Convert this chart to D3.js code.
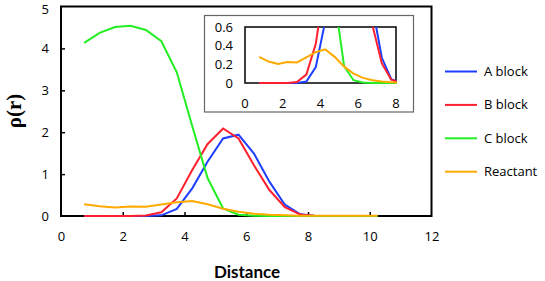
<!DOCTYPE html>
<html><head><meta charset="utf-8">
<script src="https://d3js.org/d3.v7.min.js"></script>
<style>body{margin:0;background:#fff}svg{display:block}</style>
</head><body>
<script>
const distance = [0.75,1.25,1.75,2.25,2.75,3.25,3.75,4.25,4.75,5.25,5.75,6.25,6.75,7.25,7.75,8.25,8.75,9.25,9.75,10.25];
const aBlock   = [0,0,0,0,0,0.015,0.17,0.66,1.3,1.85,1.94,1.49,0.82,0.27,0.04,0,0,0,0,0];
const bBlock   = [0,0,0,0,0.01,0.09,0.42,1.1,1.72,2.09,1.85,1.21,0.62,0.21,0.035,0,0,0,0,0];
const cBlock   = [4.13,4.37,4.51,4.54,4.44,4.17,3.43,2.15,0.9,0.18,0.03,0.005,0,0,0,0,0,0,0,0];
const reactant = [0.28,0.23,0.205,0.225,0.22,0.275,0.33,0.36,0.28,0.175,0.1,0.055,0.03,0.015,0.008,0.005,0.005,0.005,0.005,0.005];
const seriesNames = ["A block","B block","C block","Reactant"];
const seriesColors = ["#1f3fff","#ff1f2f","#22ee22","#ffaa00"];
const xTicks = [0,2,4,6,8,10,12];
const yTicks = [0,1,2,3,4,5];
const insetXTicks = [0,2,4,6,8];
const insetYTicks = [0,0.2,0.4,0.6];

const series = [aBlock,bBlock,cBlock,reactant];
const W=545,H=281;
const svg=d3.select("body").append("svg").attr("width",W).attr("height",H);
const font="'Open Sans', sans-serif";

// main
const x=d3.scaleLinear().domain([0,12]).range([61,431.5]);
const y=d3.scaleLinear().domain([0,5]).range([216,6.5]);
const line=(xs,ys)=>d3.line().x((d,i)=>xs(distance[i])).y(d=>ys(d));

svg.append("rect").attr("x",x(0)).attr("y",y(5)).attr("width",x(12)-x(0)).attr("height",y(0)-y(5))
  .attr("fill","none").attr("stroke","#000").attr("stroke-width",2);
const gx=svg.append("g").attr("transform","translate(0,216)")
  .call(d3.axisBottom(x).tickValues(xTicks).tickSize(-4).tickPadding(16).tickFormat(d3.format("d")));
const gy=svg.append("g").attr("transform","translate(61,0)")
  .call(d3.axisLeft(y).tickValues(yTicks).tickSize(-4).tickPadding(12).tickFormat(d3.format("d")));
[gx,gy].forEach(g=>{g.select(".domain").remove();g.selectAll("line").attr("stroke","#000").attr("stroke-width",1.5);
  g.selectAll("text").attr("font-family",font).attr("font-size",13).attr("fill","#000");});
gx.selectAll(".tick").filter(d=>d===0||d===12).select("line").remove();
gy.selectAll(".tick").filter(d=>d===0||d===5).select("line").remove();
gy.selectAll(".tick").filter(d=>d===5).select("text").attr("dy","0.5em");

series.forEach((s,k)=>{
  svg.append("path").datum(s).attr("d",line(x,y)).attr("fill","none")
    .attr("stroke",seriesColors[k]).attr("stroke-width",2);
});

// inset
svg.append("rect").attr("x",204.5).attr("y",15.5).attr("width",209).attr("height",96.5)
  .attr("fill","#fff").attr("stroke","#666").attr("stroke-width",1.2);
const ix=d3.scaleLinear().domain([0,8]).range([245,396]);
const iy=d3.scaleLinear().domain([0,0.6]).range([83,27]);
svg.append("rect").attr("x",245).attr("y",27).attr("width",151).attr("height",56)
  .attr("fill","none").attr("stroke","#000").attr("stroke-width",1.5);
svg.append("clipPath").attr("id","ic").append("rect").attr("x",244).attr("y",27).attr("width",153).attr("height",57);
const ig=svg.append("g").attr("clip-path","url(#ic)");
series.forEach((s,k)=>{
  ig.append("path").datum(s).attr("d",line(ix,iy)).attr("fill","none")
    .attr("stroke",seriesColors[k]).attr("stroke-width",2);
});
svg.append("g").selectAll("text").data(insetXTicks).join("text")
  .attr("x",d=>ix(d)).attr("y",103).attr("dy","0.35em").attr("text-anchor","middle")
  .attr("font-family",font).attr("font-size",13).text(d=>d);
svg.append("g").selectAll("text").data(insetYTicks).join("text")
  .attr("x",233).attr("y",d=>iy(d)).attr("dy","0.35em").attr("text-anchor","end")
  .attr("font-family",font).attr("font-size",13).text(d=>d===0?"0":d.toFixed(1));

// legend
const lg=svg.append("g");
seriesNames.forEach((n,k)=>{
  const yy=71.5+k*33.4;
  lg.append("line").attr("x1",445).attr("x2",477).attr("y1",yy).attr("y2",yy)
    .attr("stroke",seriesColors[k]).attr("stroke-width",2);
  lg.append("text").attr("x",484).attr("y",yy).attr("dy","0.35em")
    .attr("font-family",font).attr("font-size",13).text(n);
});

// titles
svg.append("text").attr("x",247).attr("y",272).attr("dy","0.35em").attr("text-anchor","middle")
  .attr("font-family","Lato, sans-serif").attr("font-weight","bold").attr("font-size",17).text("Distance");
svg.append("text").attr("transform","translate(14,111) rotate(-90)").attr("dy","0.35em").attr("text-anchor","middle")
  .attr("font-family","'Liberation Serif', serif").attr("font-weight","bold").attr("font-size",21).text("ρ(r)");
</script>
</body></html>
